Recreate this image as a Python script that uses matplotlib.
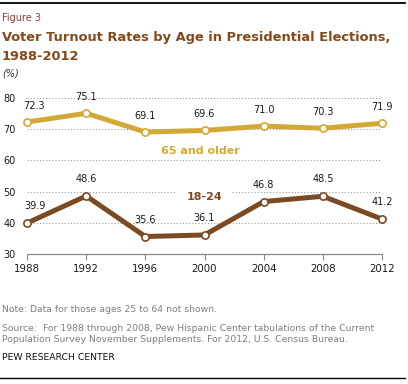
import matplotlib
matplotlib.use("Agg")
import matplotlib.pyplot as plt
from matplotlib.lines import Line2D

W, H = 408, 384

years = [1988, 1992, 1996, 2000, 2004, 2008, 2012]
older = [72.3, 75.1, 69.1, 69.6, 71.0, 70.3, 71.9]
young = [39.9, 48.6, 35.6, 36.1, 46.8, 48.5, 41.2]
yticks = [30, 40, 50, 60, 70, 80]

GOLD = "#D4A834"
BROWN = "#7C4A22"
TITLE = "#84481A"
FIG_RED = "#8E4038"
GRAY = "#7F7F7F"

plt.rcParams["font.family"] = ["DejaVu Sans"]


def fx(x):
    return x / W


def fy(y):
    return 1 - y / H


fig = plt.figure(figsize=(W / 100, H / 100), dpi=100)
ax = fig.add_axes([fx(27), fy(254), (382 - 27) / W, (254 - 98) / H])

for vals, col in [(older, GOLD), (young, BROWN)]:
    ax.plot(years, vals, color=col, lw=3.6, solid_capstyle="butt", zorder=3, clip_on=False)
    ax.plot(years, vals, "o", ms=5.2, mfc="white", mec=col, mew=1.2, zorder=4, clip_on=False)

# data labels
for i, (x, v) in enumerate(zip(years, older)):
    dx = 5 if i == 0 else 0
    ax.annotate(f"{v:.1f}", (x, v), xytext=(dx, 8), textcoords="offset points",
                ha="center", va="bottom", fontsize=7, color="#1a1a1a", zorder=5)
for i, (x, v) in enumerate(zip(years, young)):
    dx = 6 if i == 0 else 0
    ax.annotate(f"{v:.1f}", (x, v), xytext=(dx, 8.5), textcoords="offset points",
                ha="center", va="bottom", fontsize=7, color="#1a1a1a", zorder=5)

ax.text(1999.7, 63.1, "65 and older", color=GOLD, fontsize=8, fontweight="bold",
        ha="center", va="center", zorder=5)
ax.text(2000, 48.2, "18-24", color=BROWN, fontsize=8, fontweight="bold",
        ha="center", va="center", zorder=5,
        bbox=dict(boxstyle="square,pad=0.9", fc="white", ec="none"))

ax.set_xlim(1988, 2012)
ax.set_ylim(30, 80)
ax.set_xticks(years)
ax.set_yticks(yticks)
ax.tick_params(axis="x", length=4, width=0.8, color="#888888", labelsize=7.4,
               labelcolor="#1a1a1a", pad=3)
ax.tick_params(axis="y", length=0, labelsize=7, labelcolor="#1a1a1a", pad=8)
for s in ["top", "right", "left"]:
    ax.spines[s].set_visible(False)
ax.spines["bottom"].set_color("#888888")
ax.spines["bottom"].set_linewidth(0.9)
ax.grid(axis="y", color="#8a8a8a", lw=0.7, linestyle=(0, (1, 2.2)), zorder=1)
ax.set_axisbelow(True)

# header
fig.add_artist(Line2D([0, fx(405)], [fy(2.5), fy(2.5)], color="black", lw=1.3))
fig.text(fx(2), fy(18), "Figure 3", fontsize=7, color=FIG_RED, ha="left", va="center")
fig.text(fx(2), fy(38), "Voter Turnout Rates by Age in Presidential Elections,",
         fontsize=9.4, fontweight="bold", color=TITLE, ha="left", va="center")
fig.text(fx(2), fy(57), "1988-2012", fontsize=9.4, fontweight="bold", color=TITLE,
         ha="left", va="center")
fig.text(fx(2), fy(73), "(%)", fontsize=7, style="italic", color="#333333",
         ha="left", va="center")

# footer
fig.text(fx(2), fy(310), "Note: Data for those ages 25 to 64 not shown.",
         fontsize=6.7, color=GRAY, ha="left", va="center")
fig.text(fx(2), fy(334),
         "Source:  For 1988 through 2008, Pew Hispanic Center tabulations of the Current\n"
         "Population Survey November Supplements. For 2012, U.S. Census Bureau.",
         fontsize=6.7, color=GRAY, ha="left", va="center", linespacing=1.2)
fig.text(fx(2), fy(358), "PEW RESEARCH CENTER", fontsize=6.7, color="#111111",
         ha="left", va="center")
fig.add_artist(Line2D([0, fx(405)], [fy(378), fy(378)], color="black", lw=1.0))

fig.savefig("out.png", dpi=100)
